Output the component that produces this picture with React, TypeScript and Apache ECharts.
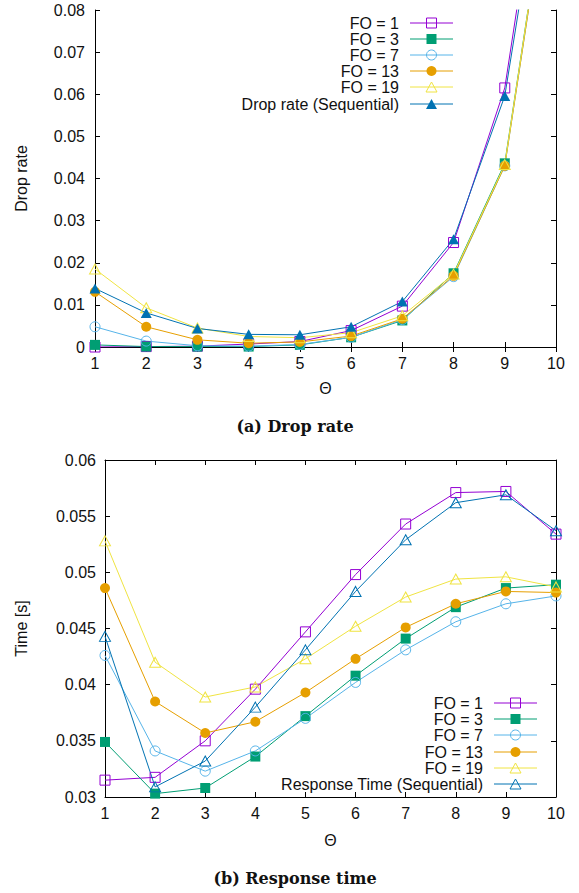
import React, { useEffect, useRef } from "react";
import * as echarts from "echarts";

const theta = [1, 2, 3, 4, 5, 6, 7, 8, 9, 10];

const dropNames = ["FO = 1", "FO = 3", "FO = 7", "FO = 13", "FO = 19", "Drop rate (Sequential)"];
const timeNames = ["FO = 1", "FO = 3", "FO = 7", "FO = 13", "FO = 19", "Response Time (Sequential)"];

const dropFO1 = [0, 0.0001, 0.0002, 0.0007, 0.0013, 0.0039, 0.0097, 0.0248, 0.0615, 0.141];
const dropFO3 = [0.0005, 0.0001, 0.0001, 0.0001, 0.0005, 0.0023, 0.0063, 0.0175, 0.0436, 0.124];
const dropFO7 = [0.0048, 0.0014, 0.0003, 0.0002, 0.0006, 0.0023, 0.0065, 0.0167, 0.043, 0.123];
const dropFO13 = [0.0131, 0.0048, 0.0017, 0.0009, 0.0012, 0.0026, 0.0067, 0.0169, 0.043, 0.123];
const dropFO19 = [0.0185, 0.0093, 0.0045, 0.0025, 0.0022, 0.0034, 0.0074, 0.0173, 0.0433, 0.124];
const dropSeq = [0.0139, 0.0081, 0.0044, 0.003, 0.0029, 0.0048, 0.0108, 0.0256, 0.0596, 0.135];

const timeFO1 = [0.0315, 0.03175, 0.035, 0.0396, 0.0447, 0.0498, 0.0543, 0.0571, 0.0572, 0.0534];
const timeFO3 = [0.0349, 0.0303, 0.0308, 0.0336, 0.0372, 0.0408, 0.0441, 0.0469, 0.0486, 0.0489];
const timeFO7 = [0.0426, 0.0341, 0.0323, 0.0341, 0.037, 0.0402, 0.0431, 0.0456, 0.0472, 0.0479];
const timeFO13 = [0.0486, 0.0385, 0.0357, 0.0367, 0.0393, 0.0423, 0.0451, 0.0472, 0.0483, 0.0482];
const timeFO19 = [0.0528, 0.042, 0.0389, 0.0398, 0.0423, 0.0452, 0.0478, 0.0494, 0.0496, 0.0487];
const timeSeq = [0.0443, 0.0309, 0.0332, 0.038, 0.0431, 0.0483, 0.0529, 0.0562, 0.0569, 0.0537];

const colors = ["#9400d3", "#009e73", "#56b4e9", "#e69f00", "#f0e442", "#0072b2"];
const FONT = "'Liberation Sans', Arial, sans-serif";
const FS = 16;

type Mk = { shape: "rect" | "circle" | "triangle"; filled: boolean };
const dropMarks: Mk[] = [
  { shape: "rect", filled: false },
  { shape: "rect", filled: true },
  { shape: "circle", filled: false },
  { shape: "circle", filled: true },
  { shape: "triangle", filled: false },
  { shape: "triangle", filled: true },
];
const timeMarks: Mk[] = [
  { shape: "rect", filled: false },
  { shape: "rect", filled: true },
  { shape: "circle", filled: false },
  { shape: "circle", filled: true },
  { shape: "triangle", filled: false },
  { shape: "triangle", filled: false },
];

function makeSeries(name: string, ys: number[], mk: Mk, color: string, axisIdx: number) {
  return {
    type: "line",
    name,
    xAxisIndex: axisIdx,
    yAxisIndex: axisIdx,
    data: theta.map((t, i) => [t, ys[i]]),
    symbol: mk.shape,
    symbolSize: mk.shape === "triangle" ? [11, 10] : 10,
    showAllSymbol: true,
    clip: true,
    lineStyle: { color, width: 1 },
    itemStyle: mk.filled
      ? { color, borderColor: color, borderWidth: 0 }
      : { color: "rgba(255,255,255,0)", borderColor: color, borderWidth: 1 },
    emphasis: { disabled: true },
    z: 2,
  };
}

function legendGraphics(names: string[], marks: Mk[], textRight: number, lineX1: number, lineX2: number, ys: number[]) {
  const els: any[] = [];
  const mx = (lineX1 + lineX2) / 2;
  names.forEach((n, i) => {
    const y = ys[i];
    const c = colors[i];
    els.push({
      type: "text",
      x: textRight,
      y,
      style: { text: n, font: `${FS}px ${FONT}`, fill: "#111", align: "right", verticalAlign: "middle" },
    });
    els.push({ type: "line", shape: { x1: lineX1, y1: y, x2: lineX2, y2: y }, style: { stroke: c, lineWidth: 1 } });
    const mk = marks[i];
    const st = mk.filled ? { fill: c, stroke: c, lineWidth: 0 } : { fill: "rgba(255,255,255,0)", stroke: c, lineWidth: 1 };
    if (mk.shape === "rect") {
      els.push({ type: "rect", shape: { x: mx - 5, y: y - 5, width: 10, height: 10 }, style: st });
    } else if (mk.shape === "circle") {
      els.push({ type: "circle", shape: { cx: mx, cy: y, r: 5 }, style: st });
    } else {
      els.push({
        type: "polygon",
        shape: { points: [[mx, y - 5], [mx + 5.5, y + 5], [mx - 5.5, y + 5]] },
        style: st,
      });
    }
  });
  return els;
}

const axisLineStyle = { show: true, lineStyle: { color: "#000", width: 1 } };
const tick = { show: true, inside: true, length: 5, lineStyle: { color: "#000", width: 1 } };
const labelStyle = { color: "#111", fontFamily: FONT, fontSize: FS };

function fmt(v: number) {
  return String(+v.toFixed(4));
}

export default function App() {
  const ref = useRef<HTMLDivElement>(null);
  useEffect(() => {
    if (!ref.current) return;
    const chart = echarts.init(ref.current, undefined, { renderer: "svg" });
    const xCommon = { type: "value", min: 1, max: 10, interval: 1, splitLine: { show: false }, axisLine: axisLineStyle, axisTick: tick };
    const option: any = {
      animation: false,
      backgroundColor: "#fff",
      grid: [
        { left: 95, top: 10, width: 461, height: 337 },
        { left: 105, top: 460, width: 451, height: 337 },
      ],
      xAxis: [
        {
          ...xCommon,
          gridIndex: 0,
          position: "bottom",
          axisLabel: { ...labelStyle, margin: 8 },
          name: "Θ",
          nameLocation: "middle",
          nameGap: 33,
          nameTextStyle: { ...labelStyle },
        },
        { ...xCommon, gridIndex: 0, position: "top", axisLabel: { show: false } },
        {
          ...xCommon,
          gridIndex: 1,
          position: "bottom",
          axisLabel: { ...labelStyle, margin: 8 },
          name: "Θ",
          nameLocation: "middle",
          nameGap: 35,
          nameTextStyle: { ...labelStyle },
        },
        { ...xCommon, gridIndex: 1, position: "top", axisLabel: { show: false } },
      ],
      yAxis: [
        {
          type: "value",
          gridIndex: 0,
          position: "left",
          min: 0,
          max: 0.08,
          interval: 0.01,
          splitLine: { show: false },
          axisLine: axisLineStyle,
          axisTick: tick,
          axisLabel: { ...labelStyle, margin: 10, formatter: fmt },
          name: "Drop rate",
          nameLocation: "middle",
          nameGap: 66,
          nameTextStyle: { ...labelStyle },
        },
        {
          type: "value",
          gridIndex: 0,
          position: "right",
          min: 0,
          max: 0.08,
          interval: 0.01,
          splitLine: { show: false },
          axisLine: axisLineStyle,
          axisTick: tick,
          axisLabel: { show: false },
        },
        {
          type: "value",
          gridIndex: 1,
          position: "left",
          min: 0.03,
          max: 0.06,
          interval: 0.005,
          splitLine: { show: false },
          axisLine: axisLineStyle,
          axisTick: tick,
          axisLabel: { ...labelStyle, margin: 9, formatter: fmt },
          name: "Time [s]",
          nameLocation: "middle",
          nameGap: 76,
          nameTextStyle: { ...labelStyle },
        },
        {
          type: "value",
          gridIndex: 1,
          position: "right",
          min: 0.03,
          max: 0.06,
          interval: 0.005,
          splitLine: { show: false },
          axisLine: axisLineStyle,
          axisTick: tick,
          axisLabel: { show: false },
        },
      ],
      series: [
        makeSeries(dropNames[0], dropFO1, dropMarks[0], colors[0], 0),
        makeSeries(dropNames[1], dropFO3, dropMarks[1], colors[1], 0),
        makeSeries(dropNames[2], dropFO7, dropMarks[2], colors[2], 0),
        makeSeries(dropNames[3], dropFO13, dropMarks[3], colors[3], 0),
        makeSeries(dropNames[4], dropFO19, dropMarks[4], colors[4], 0),
        makeSeries(dropNames[5], dropSeq, dropMarks[5], colors[5], 0),
        makeSeries(timeNames[0], timeFO1, timeMarks[0], colors[0], 2),
        makeSeries(timeNames[1], timeFO3, timeMarks[1], colors[1], 2),
        makeSeries(timeNames[2], timeFO7, timeMarks[2], colors[2], 2),
        makeSeries(timeNames[3], timeFO13, timeMarks[3], colors[3], 2),
        makeSeries(timeNames[4], timeFO19, timeMarks[4], colors[4], 2),
        makeSeries(timeNames[5], timeSeq, timeMarks[5], colors[5], 2),
      ],
      graphic: [
        ...legendGraphics(dropNames, dropMarks, 399, 410, 453, [23, 39, 55, 71, 87, 104]),
        ...legendGraphics(timeNames, timeMarks, 483, 494, 537, [703, 719, 735, 752, 768, 784]),
        {
          type: "text",
          x: 295,
          y: 426,
          style: { text: "(a) Drop rate", font: "bold 16px 'DejaVu Serif', serif", fill: "#111", align: "center", verticalAlign: "middle" },
        },
        {
          type: "text",
          x: 295,
          y: 878,
          style: { text: "(b) Response time", font: "bold 16px 'DejaVu Serif', serif", fill: "#111", align: "center", verticalAlign: "middle" },
        },
      ],
    };
    chart.setOption(option);
    return () => chart.dispose();
  }, []);
  return <div ref={ref} style={{ position: "absolute", left: 0, top: 0, width: 579, height: 893 }} />;
}
